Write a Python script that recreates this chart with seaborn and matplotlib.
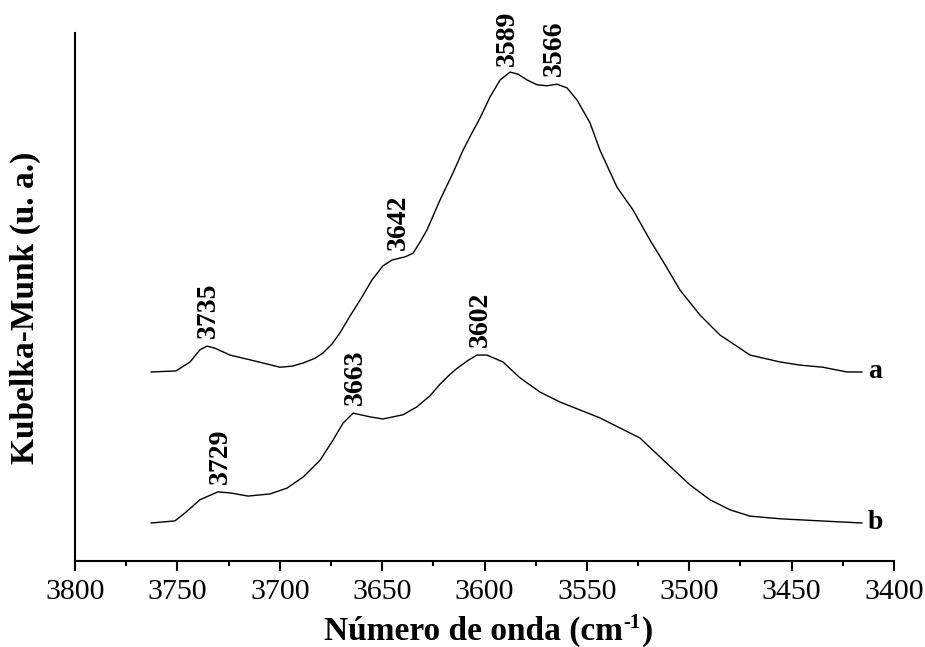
import numpy as np
import pandas as pd
import matplotlib
matplotlib.use("Agg")
import matplotlib.pyplot as plt
from matplotlib.ticker import MultipleLocator
from matplotlib.transforms import IdentityTransform
import seaborn as sns

# DRIFT spectra in the OH stretching region (Kubelka-Munk, arbitrary units)
wavenumber_a = [3762.9, 3750.7, 3743.8, 3739.0, 3735.5, 3731.6, 3724.3, 3714.5, 3708.2, 3699.9,
                3694.0, 3688.6, 3682.8, 3678.9, 3674.5, 3670.6, 3665.7, 3660.8, 3655.0, 3649.6,
                3645.2, 3638.8, 3634.9, 3631.5, 3628.1, 3621.7, 3615.4, 3610.5, 3606.1, 3602.2,
                3597.3, 3592.4, 3587.5, 3583.6, 3579.2, 3574.4, 3569.5, 3564.6, 3559.7, 3554.8,
                3548.5, 3543.6, 3535.3, 3527.5, 3519.2, 3511.8, 3504.5, 3494.8, 3485.0, 3470.3,
                3455.7, 3445.9, 3434.7, 3423.0, 3415.6]
km_a = [0.358, 0.360, 0.377, 0.400, 0.407, 0.403, 0.390, 0.381, 0.375, 0.367,
        0.369, 0.375, 0.384, 0.394, 0.411, 0.432, 0.464, 0.494, 0.532, 0.559,
        0.570, 0.576, 0.583, 0.604, 0.627, 0.684, 0.735, 0.778, 0.811, 0.839,
        0.879, 0.911, 0.926, 0.922, 0.911, 0.902, 0.900, 0.903, 0.896, 0.873,
        0.830, 0.778, 0.708, 0.665, 0.608, 0.561, 0.513, 0.466, 0.428, 0.390,
        0.377, 0.371, 0.367, 0.358, 0.358]

wavenumber_b = [3762.9, 3751.2, 3746.3, 3739.0, 3730.2, 3724.3, 3715.5, 3704.8, 3696.5, 3688.6,
                3680.3, 3674.0, 3669.1, 3664.2, 3655.9, 3649.6, 3639.8, 3633.0, 3626.6, 3621.7,
                3617.0, 3613.4, 3608.0, 3603.7, 3598.8, 3591.0, 3582.7, 3572.9, 3563.1, 3543.6,
                3524.1, 3511.8, 3499.6, 3489.9, 3480.1, 3470.3, 3455.7, 3436.1, 3415.6]
km_b = [0.072, 0.076, 0.091, 0.116, 0.131, 0.129, 0.123, 0.127, 0.138, 0.159,
        0.191, 0.229, 0.261, 0.280, 0.273, 0.269, 0.277, 0.292, 0.313, 0.335,
        0.353, 0.365, 0.380, 0.390, 0.390, 0.377, 0.347, 0.320, 0.301, 0.271,
        0.233, 0.188, 0.144, 0.116, 0.097, 0.085, 0.080, 0.076, 0.072]

# band assignments marked on each spectrum
bands_a = [3735, 3642, 3589, 3566]
bands_b = [3729, 3663, 3602]
curve_names = ["a", "b"]

sns.set_theme(style="white")
plt.rcParams["font.family"] = ["Liberation Serif", "DejaVu Serif"]
plt.rcParams["text.color"] = "black"
plt.rcParams["axes.labelcolor"] = "black"
plt.rcParams["xtick.color"] = "black"

df = pd.concat([
    pd.DataFrame({"wn": wavenumber_a, "km": km_a, "amostra": "a"}),
    pd.DataFrame({"wn": wavenumber_b, "km": km_b, "amostra": "b"}),
])

fig = plt.figure(figsize=(9.25, 6.47), dpi=100)
ax = fig.add_axes([0.0811, 0.1329, 0.8854, 0.8161])

sns.lineplot(data=df, x="wn", y="km", hue="amostra", palette=["black", "black"],
             linewidth=1.0, legend=False, ax=ax, estimator=None, sort=False)

ax.set_xlim(3800, 3400)
ax.set_ylim(0, 1)
ax.xaxis.set_major_locator(MultipleLocator(50))
ax.xaxis.set_minor_locator(MultipleLocator(25))
ax.set_yticks([])
ax.tick_params(axis="x", which="major", direction="out", length=7, width=1.5,
               labelsize=21.5, pad=6, colors="black", bottom=True)
ax.tick_params(axis="x", which="minor", direction="out", length=3.5, width=1.5, bottom=True)
for side in ["top", "right"]:
    ax.spines[side].set_visible(False)
for side in ["left", "bottom"]:
    ax.spines[side].set_color("black")
    ax.spines[side].set_linewidth(1.5)
ax.set_xlabel("")
ax.set_ylabel("")

# peak labels
for wn_list, ys_x, ys_y in [(bands_a, wavenumber_a, km_a), (bands_b, wavenumber_b, km_b)]:
    xs = np.array(ys_x)[::-1]
    ys = np.array(ys_y)[::-1]
    for wn in wn_list:
        y = np.interp(wn, xs, ys)
        ax.annotate(str(wn), xy=(wn, y), xytext=(0, 6), textcoords="offset points",
                    rotation=90, ha="center", va="bottom", fontsize=20, fontweight="bold")

# sample letters at the end of each trace
for name, xs, ys in [(curve_names[0], wavenumber_a, km_a), (curve_names[1], wavenumber_b, km_b)]:
    ax.annotate(name, xy=(xs[-1], ys[-1]), xytext=(4, 0), textcoords="offset points",
                ha="left", va="center", fontsize=20, fontweight="bold")

fig.text(25 / 925, 1 - 308 / 647, "Kubelka-Munk (u. a.)", rotation=90, ha="center",
         va="center", fontsize=24, fontweight="bold")

# x label with a superscript "-1", built from three pieces
t1 = fig.text(473 / 925, 1 - 640 / 647, "Número de onda (cm", ha="center",
              va="baseline", fontsize=24, fontweight="bold")
fig.canvas.draw()
bb = t1.get_window_extent()
t2 = fig.text(bb.x1 + 1, bb.y0 + 0.62 * bb.height, "-1", fontsize=15, fontweight="bold",
              ha="left", va="baseline", transform=IdentityTransform())
fig.canvas.draw()
bb2 = t2.get_window_extent()
fig.text(bb2.x1 + 1, 647 - 640, ")", fontsize=24, fontweight="bold", ha="left",
         va="baseline", transform=IdentityTransform())

fig.savefig("out.png", dpi=100, facecolor="white")
